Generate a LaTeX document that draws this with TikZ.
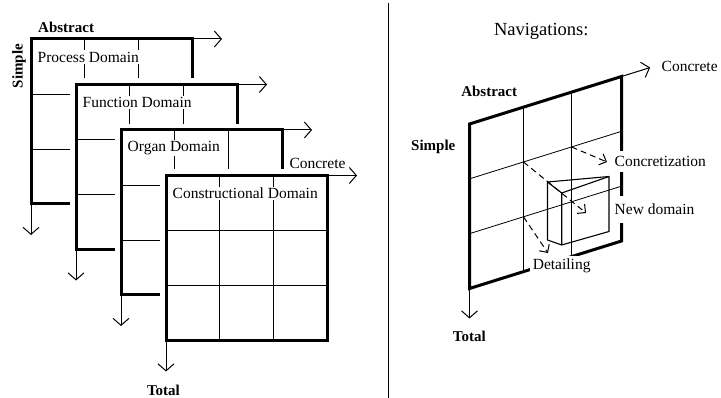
\documentclass[tikz,border=0pt]{standalone}
\usepackage{fontspec}
\setmainfont{Liberation Serif}
\usetikzlibrary{arrows.meta,calc}
\begin{document}
\begin{tikzpicture}[x=1pt,y=-1pt,
  gridline/.style={line width=0.8pt},
  frame/.style={line width=3pt},
  boxedge/.style={line width=1.1pt, line join=round},
  axis/.style={line width=1pt, -{Straight Barb[length=7pt,width=16pt,line width=1pt]}},
  move/.style={line width=1pt, dash pattern=on 6pt off 4pt, -{Straight Barb[length=6pt,width=12pt,line width=1pt]}},
  lbl/.style={inner sep=1pt, font=\fontsize{15.5}{18}\selectfont},
  blbl/.style={inner sep=1pt, font=\bfseries\fontsize{15}{18}\selectfont},
  domlabel/.style={lbl, fill=white, anchor=west, inner sep=1.5pt}]
\useasboundingbox (0,0) rectangle (721,398);

% ---- left: four stacked domain sheets ----
\foreach \k/\name in {0/Process Domain,1/Function Domain,2/Organ Domain,3/Constructional Domain} {
  \pgfmathsetmacro\ox{31+45*\k}
  \pgfmathsetmacro\oy{39+45.5*\k}
  \coordinate (tl\k) at (\ox,\oy);
  \coordinate (tr\k) at (\ox+161,\oy);
  \coordinate (bl\k) at (\ox,\oy+165);
  \coordinate (br\k) at (\ox+161,\oy+165);
  \fill[white] ($(tl\k)+(-6,-6)$) rectangle ($(br\k)+(6,6)$);
  \draw[gridline] ($(tl\k)!1/3!(tr\k)$) -- ($(bl\k)!1/3!(br\k)$);
  \draw[gridline] ($(tl\k)!2/3!(tr\k)$) -- ($(bl\k)!2/3!(br\k)$);
  \draw[gridline] ($(tl\k)!1/3!(bl\k)$) -- ($(tr\k)!1/3!(br\k)$);
  \draw[gridline] ($(tl\k)!2/3!(bl\k)$) -- ($(tr\k)!2/3!(br\k)$);
  \node[domlabel] (lab\k) at ($(tl\k)+(5,18)$) {\name};
  \draw[frame] (tl\k) rectangle (br\k);
  \coordinate (ea\k) at ($(tr\k)+(30,0)$);
  \coordinate (sa\k) at ($(bl\k)+(0,31)$);
  \draw[axis] (tr\k) -- (ea\k);
  \draw[axis] (bl\k) -- (sa\k);
}
\node[blbl, anchor=west] (abstractL) at (37,27) {Abstract};
\node[blbl, rotate=90] (simpleL) at (19,66) {Simple};
\node[lbl] (concreteL) at (317.5,163) {Concrete};
\node[blbl] (totalL) at (163.5,390) {Total};

% ---- divider ----
\coordinate (divtop) at (388,3);
\coordinate (divbot) at (388,398);
\draw[line width=0.9pt] (divtop) -- (divbot);

% ---- right: navigation on a sheet ----
\node[lbl, font=\fontsize{18.5}{22}\selectfont] (nav) at (541.3,31.7) {Navigations:};

\coordinate (A) at (469.5,124);
\coordinate (B) at (621.5,76.5);
\coordinate (C) at (621.5,241);
\coordinate (D) at (469.5,288.5);
\coordinate (H1l) at ($(A)!1/3!(D)$);
\coordinate (H1r) at ($(B)!1/3!(C)$);
\coordinate (H2l) at ($(A)!2/3!(D)$);
\coordinate (H2r) at ($(B)!2/3!(C)$);
\coordinate (V1t) at ($(A)!0.355!(B)$);
\coordinate (V1b) at ($(D)!0.355!(C)$);
\coordinate (V2t) at ($(A)!0.671!(B)$);
\coordinate (V2b) at ($(D)!0.671!(C)$);
\draw[gridline] (V1t) -- (V1b);
\draw[gridline] (V2t) -- (V2b);
\draw[gridline] (H1l) -- (H1r);
\draw[gridline] (H2l) -- (H2r);
\coordinate (P1) at ($(H1l)!0.355!(H1r)$);
\coordinate (P2) at ($(H1l)!0.671!(H1r)$);
\coordinate (P3) at ($(H2l)!0.355!(H2r)$);

% new domain block (wire frame)
\coordinate (BTL) at (547.5,182);
\coordinate (FTL) at (561.7,193);
\coordinate (RT) at (609,176.5);
\coordinate (RB) at (609,231.5);
\coordinate (FBL) at (561.7,245);
\coordinate (BBL) at (547.5,240);
\draw[boxedge] (BTL) -- (RT) -- (RB) -- (FBL) -- (FTL) -- cycle;
\draw[boxedge] (FTL) -- (RT);
\draw[boxedge] (BTL) -- (BBL) -- (FBL);

% navigation moves
\coordinate (newtip) at (586,213);
\coordinate (conctip) at (607,162);
\coordinate (dettip) at (548,253);
\draw[move] (P1) -- (newtip);
\draw[move] (P2) -- (conctip);
\draw[move] (P3) -- (dettip);

% sheet border and axes
\draw[frame] (A) -- (B) -- (C) -- (D) -- cycle;
\coordinate (concEnd) at ($(B)!-30pt!(A)$);
\coordinate (totEnd) at ($(D)+(0,30)$);
\draw[axis] (B) -- (concEnd);
\draw[axis] (D) -- (totEnd);

\node[blbl] (abstractR) at (489.2,91.7) {Abstract};
\node[blbl] (simpleR) at (433.3,146.7) {Simple};
\node[lbl, anchor=west] (concreteR) at (660.5,66) {Concrete};
\node[blbl] (totalR) at (469.3,336.7) {Total};
\node[domlabel, inner ysep=5pt] (concretization) at (613,161.7) {Concretization};
\node[domlabel, inner ysep=8pt] (newdomain) at (613,209.3) {New domain};
\node[lbl, fill=white, inner sep=2.5pt] (detailing) at (561.7,266) {Detailing};
\end{tikzpicture}
\end{document}
